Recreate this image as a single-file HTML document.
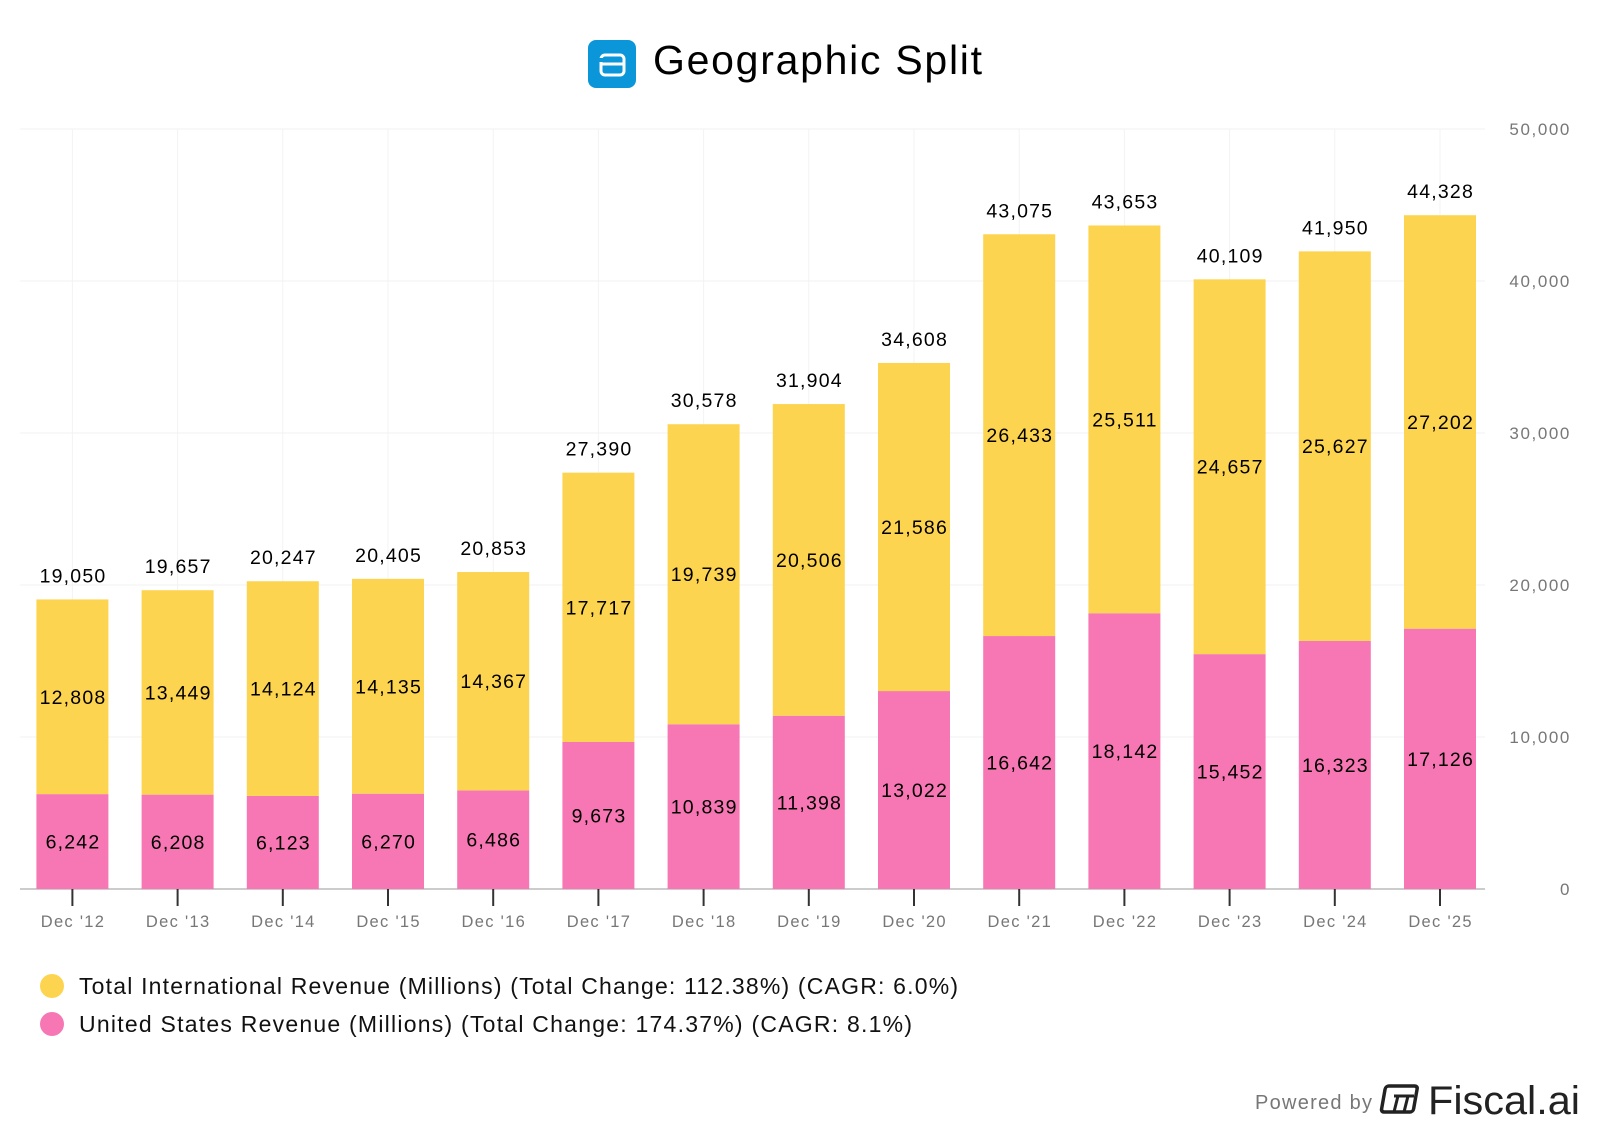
<!DOCTYPE html>
<html><head><meta charset="utf-8"><style>
body{margin:0;background:#fff;width:1600px;height:1134px;overflow:hidden;font-family:"Liberation Sans",Arial,sans-serif}
svg{display:block}
</style></head><body>
<svg id="chart" width="1600" height="1134">
<g>
<rect x="588" y="40" width="48" height="48" rx="8" fill="#0a96d8"/>
<rect x="601" y="55" width="23" height="20" rx="4" fill="none" stroke="#fff" stroke-width="3"/>
<line x1="601" y1="64" x2="624" y2="64" stroke="#fff" stroke-width="3"/>
<rect x="598" y="58" width="6" height="4" fill="#0a96d8"/>
<text x="653" y="74" font-size="41" fill="#000" textLength="329" lengthAdjust="spacing">Geographic Split</text>
</g>
<g id="grid"></g><g id="bars"></g><g id="xaxis"></g><g id="yaxis"></g>
<g>
<g><circle cx="52" cy="986" r="12" fill="#fdd44f"/><text x="79" y="994" font-size="23" fill="#111" textLength="879" lengthAdjust="spacing">Total International Revenue (Millions) (Total Change: 112.38%) (CAGR: 6.0%)</text></g>
<g><circle cx="52" cy="1024" r="12" fill="#f677b3"/><text x="79" y="1032" font-size="23" fill="#111" textLength="833" lengthAdjust="spacing">United States Revenue (Millions) (Total Change: 174.37%) (CAGR: 8.1%)</text></g>
</g>
<g>
<text x="1255" y="1109" font-size="20" fill="#777" textLength="117" lengthAdjust="spacing">Powered by</text>
<g transform="translate(1384,1084)"><rect x="2" y="2" width="32" height="26" rx="3" fill="none" stroke="#222" stroke-width="3.5" transform="skewX(-10)"/><line x1="10" y1="12" x2="30" y2="12" stroke="#222" stroke-width="3"/><line x1="14" y1="12" x2="10" y2="28" stroke="#222" stroke-width="3"/><line x1="24" y1="12" x2="20" y2="28" stroke="#222" stroke-width="3"/></g>
<text x="1428" y="1114" font-size="40" fill="#222" textLength="152" lengthAdjust="spacingAndGlyphs">Fiscal.ai</text>
</g>
</svg>
<script>
const categories=["Dec '12","Dec '13","Dec '14","Dec '15","Dec '16","Dec '17","Dec '18","Dec '19","Dec '20","Dec '21","Dec '22","Dec '23","Dec '24","Dec '25"];
const usRevenue=[6242,6208,6123,6270,6486,9673,10839,11398,13022,16642,18142,15452,16323,17126];
const intlRevenue=[12808,13449,14124,14135,14367,17717,19739,20506,21586,26433,25511,24657,25627,27202];
const yTicks=[0,10000,20000,30000,40000,50000];
const NS="http://www.w3.org/2000/svg";
const y0=889,y1=129,yMax=50000,xL=20,xR=1485,first=72.4,step=105.2,bw=72;
const yS=v=>y0-(v/yMax)*(y0-y1);
const xS=i=>first+i*step;
const fmt=v=>v.toLocaleString("en-US");
function mk(t,a,p){const e=document.createElementNS(NS,t);for(const k in a)e.setAttribute(k,a[k]);p.appendChild(e);return e;}
const grid=document.getElementById('grid'),bars=document.getElementById('bars'),xa=document.getElementById('xaxis'),ya=document.getElementById('yaxis');
yTicks.forEach(t=>{
 const l=mk('line',{x1:xL,x2:xR,y1:yS(t),y2:yS(t),stroke:t===0?'#ccc':'#f0f0f0','stroke-width':t===0?2:1},grid);
 
 
 const tx=mk('text',{x:1571,y:yS(t)+6,'font-size':17,fill:'#777','text-anchor':'end','letter-spacing':1.6},ya);
 tx.textContent=fmt(t);
 
 
});
categories.forEach((c,i)=>{
 const gl=mk('line',{x1:xS(i),x2:xS(i),y1:y1,y2:y0,stroke:'#f3f3f3','stroke-width':1},grid);
 
 
});
const lab={'font-size':19.5,'text-anchor':'middle',fill:'#000','letter-spacing':1.2};
categories.forEach((c,i)=>{
 const x=xS(i),us=usRevenue[i],it=intlRevenue[i],tot=us+it;
 const b1=mk('rect',{x:x-bw/2,y:yS(us),width:bw,height:y0-yS(us),fill:'#f677b3'},bars);
 
 
 const b2=mk('rect',{x:x-bw/2,y:yS(tot),width:bw,height:yS(us)-yS(tot),fill:'#fdd44f'},bars);
 
 
 const l1=mk('text',Object.assign({x:x+0.6,y:(yS(us)+y0)/2+7},lab),bars);l1.textContent=fmt(us);
 
 
 const l2=mk('text',Object.assign({x:x+0.6,y:(yS(tot)+yS(us))/2+7},lab),bars);l2.textContent=fmt(it);
 
 
 const l3=mk('text',Object.assign({x:x+0.6,y:yS(tot)-17},lab),bars);l3.textContent=fmt(tot);
 
 
 const tk=mk('line',{x1:x,x2:x,y1:y0,y2:y0+17,stroke:'#333','stroke-width':2},xa);
 
 
 const xl=mk('text',{x:x+0.6,y:927,'font-size':16.5,'text-anchor':'middle',fill:'#777','letter-spacing':1.3},xa);xl.textContent=c;
 
 
});
</script>
</body></html>
